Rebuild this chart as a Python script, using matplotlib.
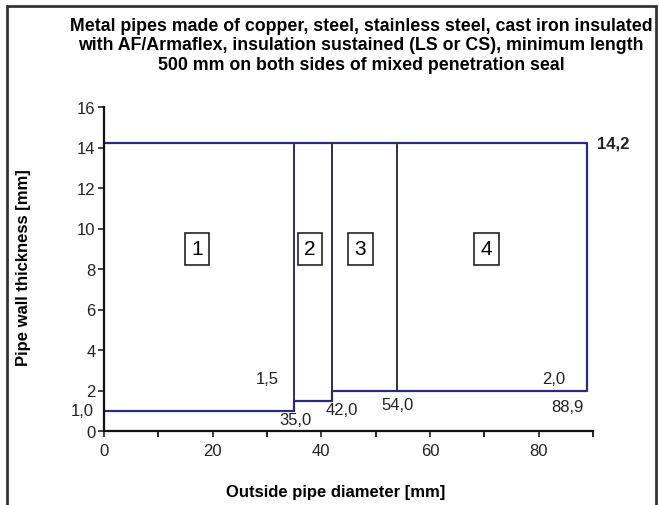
import matplotlib
matplotlib.use('Agg')
import matplotlib.pyplot as plt
from matplotlib.patches import Rectangle

plt.rcParams['font.family'] = ['Liberation Sans', 'DejaVu Sans']

# boundary of the approved area (outer diameter, wall thickness)
bound_x = [0, 35.0, 35.0, 42.0, 42.0, 88.9, 88.9, 0]
bound_y = [1.0, 1.0, 1.5, 1.5, 2.0, 2.0, 14.2, 14.2]
y_top = 14.2
# region dividers
div_x = [35.0, 42.0, 54.0]
div_ybot = [1.0, 1.5, 2.0]
div_col = ['#2b2b7a', '#2f2f3f', '#2f2f3f']
# region numbers
zone_lbl = ['1', '2', '3', '4']
zone_x = [17.1, 37.9, 47.2, 70.4]
zone_y = 9.0
# value annotations
ann_txt = ['1,5', '2,0', '35,0', '42,0', '54,0', '88,9']
ann_x = [30.0, 82.8, 35.3, 43.7, 54.0, 85.3]
ann_y = [2.6, 2.6, 0.55, 1.05, 1.3, 1.2]

navy = '#2b2b7a'
fs = 12

fig = plt.figure(figsize=(6.59, 5.06), dpi=100)
ax = fig.add_axes([104/659, 1-432/506, (593-104)/659, (432-108)/506])

ax.plot(bound_x, bound_y, color=navy, lw=1.6)
for x, yb, c in zip(div_x, div_ybot, div_col):
    ax.plot([x, x], [yb, y_top], color=c, lw=1.4)

for t, x in zip(zone_lbl, zone_x):
    ax.text(x, zone_y, t, ha='center', va='center', fontsize=15,
            bbox=dict(boxstyle='square,pad=0.3', fc='white', ec='#222222', lw=1.2))

for t, x, y in zip(ann_txt, ann_x, ann_y):
    ax.text(x, y, t, ha='center', va='center', fontsize=fs, color='#222222')
ax.text(90.8, y_top, '14,2', ha='left', va='center', fontsize=fs,
        fontweight='bold', color='#222222')
ax.text(-0.02, 1.0, '1,0', transform=ax.get_yaxis_transform(), ha='right',
        va='center', fontsize=fs, color='#222222')

ax.set_xlim(0, 90)
ax.set_ylim(0, 16)
ax.set_xticks(range(0, 91, 20))
ax.set_xticks(range(10, 91, 20), minor=True)
ax.set_yticks(range(0, 17, 2))
ax.tick_params(axis='both', labelsize=fs, colors='#222222', length=4, width=1.2)
ax.tick_params(axis='x', which='minor', length=4, width=1.2)
ax.tick_params(axis='x', pad=5)
ax.tick_params(axis='y', pad=2)
for s in ['top', 'right']:
    ax.spines[s].set_visible(False)
for s in ['left', 'bottom']:
    ax.spines[s].set_linewidth(1.6)
    ax.spines[s].set_color('#111111')

fig.text(336/659, 1-493/506, 'Outside pipe diameter [mm]', ha='center', va='center',
         fontsize=fs, fontweight='bold')
fig.text(24/659, 1-268/506, 'Pipe wall thickness [mm]', ha='center', va='center',
         rotation=90, fontsize=fs, fontweight='bold')

fig.text(361/659, 1-46/506,
         'Metal pipes made of copper, steel, stainless steel, cast iron insulated\n'
         'with AF/Armaflex, insulation sustained (LS or CS), minimum length\n'
         '500 mm on both sides of mixed penetration seal',
         ha='center', va='center', fontsize=12.8, fontweight='bold', linespacing=1.22)

fig.patches.append(Rectangle((7/659, -0.02), 649/659, 1-7/506+0.02,
                             transform=fig.transFigure, fill=False,
                             ec='#333333', lw=2))

fig.savefig('out.png', dpi=100)
